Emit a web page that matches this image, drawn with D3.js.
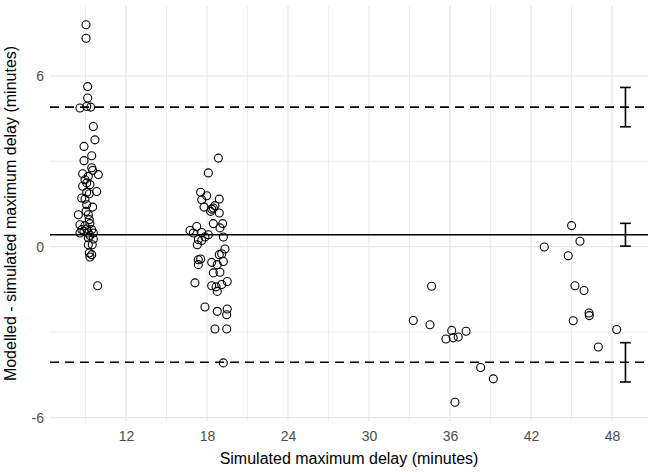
<!DOCTYPE html>
<html>
<head>
<meta charset="utf-8">
<script src="https://cdn.jsdelivr.net/npm/d3@7"></script>
<style>
  body { margin: 0; background: #fff; }
  svg { display: block; font-family: "Liberation Sans", Arial, sans-serif; }
</style>
</head>
<body>
<svg id="chart" width="651" height="472"></svg>
<script>
// Simulated maximum delay (x) and modelled - simulated difference (y)
const simDelay = [
  9.04, 9.04, 9.16, 9.16, 8.59, 9.09, 9.39, 9.58, 9.70, 8.89, 9.46, 8.89, 9.46, 9.53, 8.79, 9.95,
  9.21, 8.96, 9.09, 8.79, 9.33, 9.09, 9.83, 9.28, 8.72, 8.96, 9.09, 9.53, 9.04, 8.47, 9.21, 9.28,
  8.59, 8.96, 9.33, 8.72, 9.09, 9.46, 8.59, 8.89, 9.21, 9.58, 9.33, 9.21, 9.58, 9.21, 9.50, 9.28,
  9.46, 9.33, 9.90,
  18.84, 18.10, 17.53, 17.98, 17.61, 18.91, 17.78, 18.59, 18.35, 18.47, 18.27, 18.91, 18.47, 19.16,
  18.96, 17.24, 16.74, 16.99, 17.61, 18.10, 17.85, 17.36, 17.61, 19.21, 17.28, 19.33, 17.36, 17.53,
  17.36, 18.35, 18.91, 19.09, 19.21, 18.76, 18.47, 18.96, 17.11, 18.35, 18.67, 19.09, 19.50, 18.76,
  17.85, 18.76, 19.50, 19.46, 18.59, 19.46, 19.21,
  34.64, 33.28, 34.52, 36.13, 37.19, 35.70, 36.24, 36.61, 38.27, 39.21, 36.37,
  45.01, 45.63, 42.99, 44.76, 45.26, 45.93, 46.30, 46.32, 45.13, 48.35, 46.99
];
const delayDiff = [
  7.79, 7.32, 5.62, 5.22, 4.87, 4.92, 4.90, 4.22, 3.75, 3.52, 3.19, 3.02, 2.77, 2.68, 2.56, 2.53,
  2.47, 2.35, 2.24, 2.12, 2.18, 1.91, 1.94, 1.86, 1.71, 1.67, 1.47, 1.39, 1.24, 1.12, 1.12, 0.95,
  0.77, 0.74, 0.81, 0.60, 0.62, 0.60, 0.48, 0.54, 0.48, 0.48, 0.39, 0.31, 0.27, 0.07, 0.07, -0.22,
  -0.28, -0.36, -1.37,
  3.11, 2.59, 1.91, 1.79, 1.65, 1.67, 1.39, 1.44, 1.32, 1.36, 1.24, 1.18, 0.81, 0.81,
  0.66, 0.71, 0.57, 0.48, 0.50, 0.42, 0.34, 0.25, 0.22, 0.34, 0.07, -0.08, -0.46, -0.43,
  -0.63, -0.55, -0.28, -0.25, -0.52, -0.63, -0.92, -0.90, -1.27, -1.37, -1.41, -1.33, -1.22, -1.57,
  -2.12, -2.27, -2.19, -2.39, -2.89, -2.89, -4.08,
  -1.39, -2.59, -2.74, -2.94, -2.97, -3.24, -3.20, -3.17, -4.24, -4.64, -5.46,
  0.74, 0.19, -0.01, -0.32, -1.37, -1.54, -2.33, -2.42, -2.60, -2.91, -3.52
];

// Bias and limits of agreement, with their confidence intervals
const refLines = [
  { value: 4.90, dashed: true },
  { value: 0.42, dashed: false },
  { value: -4.06, dashed: true }
];
const ciPosition = 49;
const ciLow = [4.21, 0.02, -4.75];
const ciHigh = [5.59, 0.82, -3.37];

const xTicks = [12, 18, 24, 30, 36, 42, 48];
const xMinor = [9, 15, 21, 27, 33, 39, 45];
const yTicks = [-6, 0, 6];
const yMinor = [-3, 3];

const svg = d3.select('#chart');
const panel = { left: 50, right: 648, top: 6, bottom: 421 };

const x = d3.scaleLinear().domain([6.37, 50.67]).range([panel.left, panel.right]);
const y = d3.scaleLinear().domain([-6.12, 8.45]).range([panel.bottom, panel.top]);

// gridlines
const grid = svg.append('g');
grid.selectAll('.xminor').data(xMinor).enter().append('line')
  .attr('x1', d => x(d)).attr('x2', d => x(d))
  .attr('y1', panel.top).attr('y2', panel.bottom)
  .attr('stroke', '#e8e8e8').attr('stroke-width', 0.8);
grid.selectAll('.yminor').data(yMinor).enter().append('line')
  .attr('x1', panel.left).attr('x2', panel.right)
  .attr('y1', d => y(d)).attr('y2', d => y(d))
  .attr('stroke', '#e8e8e8').attr('stroke-width', 0.8);
grid.selectAll('.xmajor').data(xTicks).enter().append('line')
  .attr('x1', d => x(d)).attr('x2', d => x(d))
  .attr('y1', panel.top).attr('y2', panel.bottom)
  .attr('stroke', '#e8e8e8').attr('stroke-width', 1.3);
grid.selectAll('.ymajor').data(yTicks).enter().append('line')
  .attr('x1', panel.left).attr('x2', panel.right)
  .attr('y1', d => y(d)).attr('y2', d => y(d))
  .attr('stroke', '#e8e8e8').attr('stroke-width', 1.3);

// axes (text only, theme_minimal style)
const xAxis = svg.append('g')
  .attr('transform', `translate(0,${panel.bottom})`)
  .call(d3.axisBottom(x).tickValues(xTicks).tickSize(0).tickPadding(10));
const yAxis = svg.append('g')
  .attr('transform', `translate(${panel.left},0)`)
  .call(d3.axisLeft(y).tickValues(yTicks).tickSize(0).tickPadding(6)
    .tickFormat(d => d < 0 ? '-' + Math.abs(d) : d));
[xAxis, yAxis].forEach(a => {
  a.select('.domain').remove();
  a.selectAll('text').attr('fill', '#4d4d4d').style('font-size', '14px')
    .style('font-family', '"Liberation Sans", Arial, sans-serif');
});

// reference lines
svg.selectAll('.ref').data(refLines).enter().append('line')
  .attr('x1', panel.left).attr('x2', panel.right)
  .attr('y1', d => y(d.value)).attr('y2', d => y(d.value))
  .attr('stroke', '#000').attr('stroke-width', 1.6)
  .attr('stroke-dasharray', d => d.dashed ? '9,6' : null);

// points
svg.append('g').selectAll('circle').data(simDelay).enter().append('circle')
  .attr('cx', d => x(d))
  .attr('cy', (d, i) => y(delayDiff[i]))
  .attr('r', 4)
  .attr('fill', 'none')
  .attr('stroke', '#000')
  .attr('stroke-width', 1.1);

// confidence interval error bars
const capHalf = 0.4;
const eb = svg.append('g').attr('stroke', '#000').attr('stroke-width', 1.6);
ciLow.forEach((lo, i) => {
  const hi = ciHigh[i];
  eb.append('line').attr('x1', x(ciPosition)).attr('x2', x(ciPosition))
    .attr('y1', y(lo)).attr('y2', y(hi));
  eb.append('line').attr('x1', x(ciPosition - capHalf)).attr('x2', x(ciPosition + capHalf))
    .attr('y1', y(lo)).attr('y2', y(lo));
  eb.append('line').attr('x1', x(ciPosition - capHalf)).attr('x2', x(ciPosition + capHalf))
    .attr('y1', y(hi)).attr('y2', y(hi));
});

// axis titles
svg.append('text')
  .attr('x', (panel.left + panel.right) / 2)
  .attr('y', 464)
  .attr('text-anchor', 'middle')
  .style('font-size', '16px')
  .text('Simulated maximum delay (minutes)');
svg.append('text')
  .attr('transform', `translate(16,${(panel.top + panel.bottom) / 2}) rotate(-90)`)
  .attr('text-anchor', 'middle')
  .style('font-size', '16px')
  .text('Modelled - simulated maximum delay (minutes)');
</script>
</body>
</html>
